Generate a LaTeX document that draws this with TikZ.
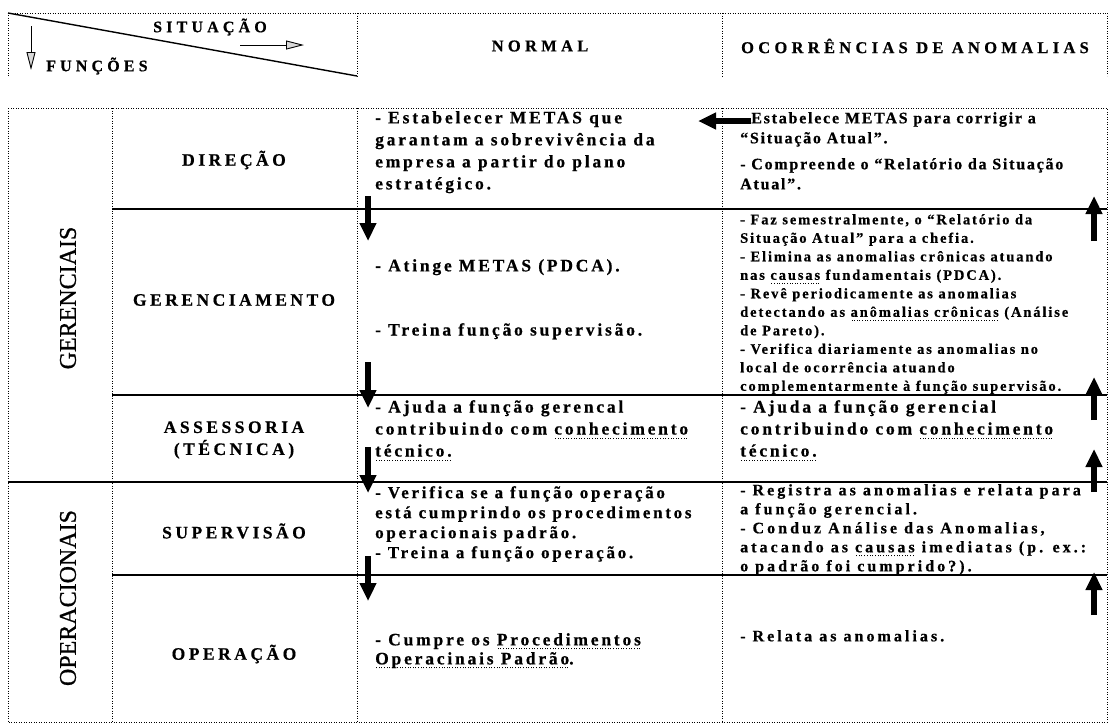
\documentclass[tikz,border=0pt]{standalone}
\usepackage{fontspec}
\setmainfont{Liberation Serif}
\newfontfamily\hdfont{Liberation Serif}[LetterSpace=26, FakeBold=0.6]
\newfontfamily\fnfont{Liberation Serif}[LetterSpace=20, FakeBold=0.6]
\newfontfamily\txfont{Liberation Serif}[LetterSpace=16, FakeBold=0.6]
\newfontfamily\rtfont{Liberation Serif}[LetterSpace=11, FakeBold=0.6]
\newfontfamily\rsfont{Liberation Serif}[LetterSpace=19, FakeBold=0.6]
\newfontfamily\smfont{Liberation Serif}[LetterSpace=13, FakeBold=0.5]
\newfontfamily\grfont{Liberation Serif}[FakeBold=0.8]
\usetikzlibrary{arrows.meta}

% dotted underline under a word
\newcommand\dotul[1]{\leavevmode\setbox0\hbox{#1}\rlap{\raisebox{-4pt}{\hbox to\wd0{\xleaders\hbox to 2.6pt{\hss\rule{0.9pt}{0.9pt}\hss}\hfill}}}\box0\relax}

\begin{document}
\begin{tikzpicture}[x=1pt,y=-1pt,
  grid/.style={line width=0.9pt, dash pattern=on 0.9pt off 1.6pt},
  rule/.style={line width=1.4pt},
  hdtext/.style={inner sep=0pt, font={\hdfont\bfseries\fontsize{16.5}{19}\selectfont}},
  fntext/.style={inner sep=0pt, align=center, font={\fnfont\bfseries\fontsize{17.5}{22}\selectfont}},
  grptext/.style={inner sep=0pt, rotate=90, font={\grfont\fontsize{24}{26}\selectfont}},
  mtext/.style={inner sep=0pt, anchor=north west, align=left, font={\txfont\bfseries\fontsize{17.5}{22}\selectfont}},
  rtext/.style={inner sep=0pt, anchor=north west, align=left, font={\rtfont\bfseries\fontsize{16}{20}\selectfont}},
  rstext/.style={inner sep=0pt, anchor=north west, align=left, font={\rsfont\bfseries\fontsize{16}{19}\selectfont}},
  stext/.style={inner sep=0pt, anchor=north west, align=left, font={\smfont\bfseries\fontsize{14.5}{18.5}\selectfont}},
  blockarrow/.style={line width=6.5pt, -{Triangle[length=18pt,width=16pt]}},
  hdarrow/.style={line width=0.9pt, -{Triangle[length=18pt,width=9pt,fill=gray!30]}}
]
\useasboundingbox (0,0) rectangle (1111,724);

% ---- header row ----
\draw[grid] (8,76) -- (8,13) -- (1107,13) -- (1107,76);
\draw[grid] (357,13) -- (357,76);
\draw[grid] (722,13) -- (722,76);
\draw[line width=1.4pt] (8,13) -- (357,76);
\node[hdtext, font={\hdfont\bfseries\fontsize{16}{19}\selectfont}] (sit) at (210,27) {SITUAÇÃO};
\node[hdtext, font={\hdfont\bfseries\fontsize{16}{19}\selectfont}, anchor=west] (fun) at (46,66) {FUNÇÕES};
\coordinate (sitA) at (240,45);
\coordinate (sitB) at (304,45);
\draw[hdarrow] (sitA) -- (sitB);
\coordinate (funA) at (31,26);
\coordinate (funB) at (31,70);
\draw[hdarrow] (funA) -- (funB);
\node[hdtext] (normal) at (540,46) {NORMAL};
\node[hdtext] (anom) at (915,46) {OCORRÊNCIAS DE ANOMALIAS};

% ---- main table ----
\draw[grid] (8,108) rectangle (1107,722);
\draw[grid] (112,108) -- (112,722);
\draw[grid] (357,108) -- (357,722);
\draw[grid] (722,108) -- (722,722);
\draw[rule] (112,209) -- (1107,209);
\draw[rule] (112,395) -- (1107,395);
\draw[rule] (8,482) -- (1107,482);
\draw[rule] (112,575) -- (1107,575);

% group labels
\node[grptext] (ger) at (68,298) {GERENCIAIS};
\node[grptext] (ope) at (68,598) {OPERACIONAIS};

% function names
\node[fntext] (dir) at (234,160) {DIREÇÃO};
\node[fntext] (gerc) at (234,300) {GERENCIAMENTO};
\node[fntext] (ass) at (234,440) {ASSESSORIA\\(TÉCNICA)};
\node[fntext] (sup) at (234,531) {SUPERVISÃO};
\node[fntext] (op) at (234,654) {OPERAÇÃO};

% NORMAL column
\node[mtext] (mD) at (375,111) {- Estabelecer METAS que\\garantam a sobrevivência da\\empresa a partir do plano\\estratégico.};
\node[mtext] (mG1) at (375,259) {- Atinge METAS (PDCA).};
\node[mtext] (mG2) at (375,323) {- Treina função supervisão.};
\node[mtext] (mA) at (375,400) {- Ajuda a função gerencal\\contribuindo com \dotul{conhecimento}\\\dotul{técnico.}};
\node[mtext, font={\txfont\bfseries\fontsize{17}{20}\selectfont}] (mS) at (375,486) {- Verifica se a função operação\\está cumprindo os procedimentos\\operacionais padrão.\\- Treina a função operação.};
\node[mtext, font={\txfont\bfseries\fontsize{17.5}{19}\selectfont}] (mO) at (375,633) {- Cumpre os \dotul{Procedimentos}\\\dotul{Operacinais Padrão}.};

% ANOMALIAS column
\node[rtext] (rD) at (740,112) {- Estabelece METAS para corrigir a\\“Situação Atual”.\\[6pt]- Compreende o “Relatório da Situação\\Atual”.};
\node[stext] (rG) at (740,214) {- Faz semestralmente, o “Relatório da\\Situação Atual” para a chefia.\\- Elimina as anomalias crônicas atuando\\nas \dotul{causas} fundamentais (PDCA).\\- Revê periodicamente as anomalias\\detectando as \dotul{anômalias crônicas} (Análise\\de Pareto).\\- Verifica diariamente as anomalias no\\local de ocorrência atuando\\complementarmente à função supervisão.};
\node[mtext] (rA) at (740,400) {- Ajuda a função gerencial\\contribuindo com \dotul{conhecimento}\\\dotul{técnico.}};
\node[rstext] (rS) at (740,484) {- Registra as anomalias e relata para\\a função gerencial.\\- Conduz Análise das Anomalias,\\atacando as \dotul{causas} imediatas (p. ex.:\\o padrão foi cumprido?).};
\node[rstext] (rO) at (740,630) {- Relata as anomalias.};

% block arrows: down in NORMAL, up in ANOMALIAS
\coordinate (d1a) at (368,196); \coordinate (d1b) at (368,241);
\coordinate (d2a) at (368,362); \coordinate (d2b) at (368,408);
\coordinate (d3a) at (368,447); \coordinate (d3b) at (368,493);
\coordinate (d4a) at (368,556); \coordinate (d4b) at (368,601);
\coordinate (u1a) at (1094,241); \coordinate (u1b) at (1094,196);
\coordinate (u2a) at (1094,420); \coordinate (u2b) at (1094,377);
\coordinate (u3a) at (1094,492); \coordinate (u3b) at (1094,449);
\coordinate (u4a) at (1094,615); \coordinate (u4b) at (1094,572);
\coordinate (l1a) at (751,121); \coordinate (l1b) at (698,121);
\foreach \p in {d1,d2,d3,d4,u1,u2,u3,u4,l1}
  \draw[blockarrow] (\p a) -- (\p b);
\end{tikzpicture}
\end{document}
